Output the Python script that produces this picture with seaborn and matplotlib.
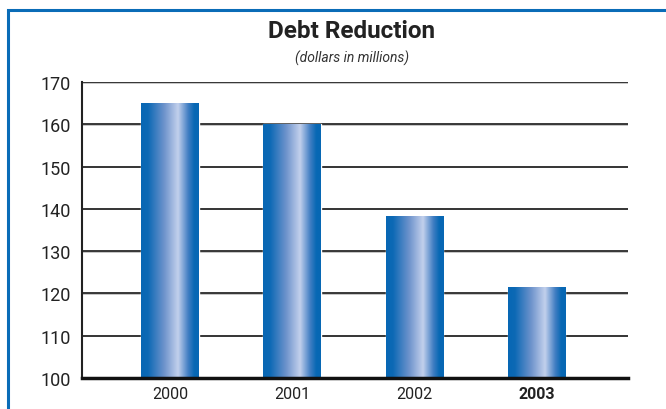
import numpy as np
import seaborn as sns
import matplotlib.pyplot as plt
import pandas as pd
from matplotlib.colors import LinearSegmentedColormap
from matplotlib.patches import Rectangle

years = ["2000", "2001", "2002", "2003"]
debt = [165, 160, 138.3, 121.3]
yticks = [100, 110, 120, 130, 140, 150, 160, 170]

df = pd.DataFrame({"year": years, "debt": debt})

sns.set_style("white")
plt.rcParams["font.family"] = ["Roboto", "DejaVu Sans"]

fig = plt.figure(figsize=(6.66, 4.10), dpi=100)
ax = fig.add_axes([0.1231, 0.0756, 0.8199, 0.722])

sns.barplot(data=df, x="year", y="debt", color="#0868b4", width=0.47,
            saturation=1, ax=ax, zorder=3)
ax.set_ylim(100, 170)
ax.set_xlim(-0.72, 3.75)
ymin = ax.get_ylim()[0]

# cylinder shading for each bar
cmap = LinearSegmentedColormap.from_list("cyl", [
    (0.0, "#0767b4"), (0.12, "#0d69b5"), (0.4, "#6e93cc"),
    (0.64, "#c2d0ec"), (0.82, "#3f7dc2"), (0.92, "#0868b4"), (1.0, "#0767b4")])
grad = np.linspace(0, 1, 256).reshape(1, -1)
for bar in ax.patches:
    x0 = bar.get_x()
    w, top = bar.get_width(), bar.get_y() + bar.get_height()
    ax.imshow(grad, cmap=cmap, aspect="auto",
              extent=(x0, x0 + w, ymin, top), zorder=4)
ax.set_ylim(100, 170)
ax.set_xlim(-0.72, 3.75)

ax.set_yticks(yticks)
for t in yticks[1:]:
    ax.axhline(t - 0.15, color="#bbbbbb", lw=1.2, zorder=1)
    ax.axhline(t, color="#2a2a2a", lw=1.3, zorder=2)

ax.set_xlabel("")
ax.set_ylabel("")
for s in ["top", "right"]:
    ax.spines[s].set_visible(False)
ax.spines["left"].set_color("#222222")
ax.spines["left"].set_linewidth(1.5)
ax.spines["bottom"].set_color("#111111")
ax.spines["bottom"].set_linewidth(2.5)
ax.spines["bottom"].set_zorder(6)
ax.tick_params(axis="y", length=0, labelsize=13, pad=8, labelcolor="#222222")
ax.tick_params(axis="x", length=0, labelsize=11.5, pad=6, labelcolor="#222222")
ax.get_xticklabels()[-1].set_fontweight("bold")

fig.text(0.528, 0.923, "Debt Reduction", ha="center", va="center",
         fontsize=17.5, fontweight="bold", color="#222222")
fig.text(0.528, 0.858, "(dollars in millions)", ha="center", va="center",
         fontsize=10, style="italic", color="#333333")

fig.patches.append(Rectangle((7.5 / 666, -0.1), 1.2, 1.1 - 10.5 / 410,
                             transform=fig.transFigure, fill=False,
                             edgecolor="#0a6cb7", lw=2.2))

fig.savefig("out.png", dpi=100)
